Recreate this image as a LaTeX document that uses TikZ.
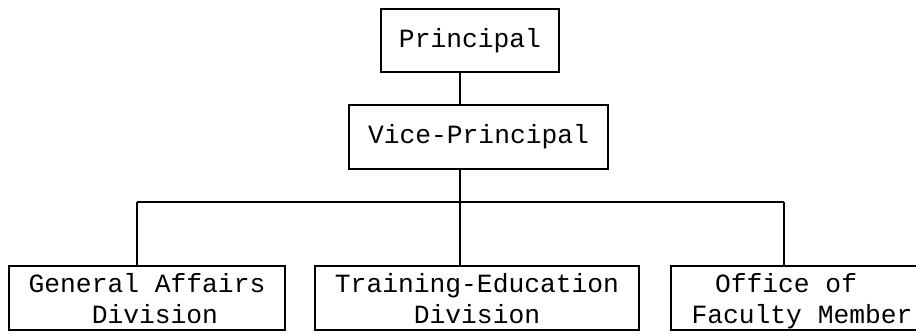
\documentclass[tikz,border=0pt]{standalone}
\usepackage{fontspec}
\newfontfamily\twfont{Liberation Mono}
\newcommand\mytopst{\rule{0pt}{26pt}}
\newcommand\mybotst{\rule[-7pt]{0pt}{7pt}}
\newcommand\myonest{\rule[-9pt]{0pt}{31pt}}
\tikzset{
  box/.style={draw, line width=1.3pt, inner sep=0pt, align=left,
    font=\twfont\fontsize{26.3}{31}\selectfont},
  link/.style={line width=1.3pt},
}
\begin{document}
\begin{tikzpicture}[x=1pt,y=-1pt]
\useasboundingbox (0,0) rectangle (916,333);
\clip (0,0) rectangle (916,333);
\node[box, minimum width=178pt, minimum height=63pt] (P) at (470,40.5) {\myonest Principal};
\node[box, minimum width=259pt, minimum height=64pt] (V) at (478.5,137) {\myonest Vice-Principal};
\node[box, minimum width=276pt, minimum height=64pt] (G) at (147,298)
  {\mytopst General Affairs\\\phantom{0000}Division\mybotst};
\node[box, minimum width=324pt, minimum height=64pt] (T) at (477,298)
  {\mytopst Training-Education\\\phantom{00000}Division\mybotst};
\node[box, minimum width=262pt, minimum height=64pt] (O) at (802,298)
  {\mytopst\hspace*{23.5pt}Office of\\Faculty Member\mybotst};
\coordinate (bus) at (460,202);
\coordinate (bl) at (137,202);
\coordinate (br) at (784,202);
\draw[link] (P.south -| bus) -- (V.north -| bus);
\draw[link] (V.south -| bus) -- (bus);
\draw[link] (bl) -- (br);
\draw[link] (bl) -- (bl |- G.north);
\draw[link] (bus) -- (bus |- T.north);
\draw[link] (br) -- (br |- O.north);
\end{tikzpicture}
\end{document}
